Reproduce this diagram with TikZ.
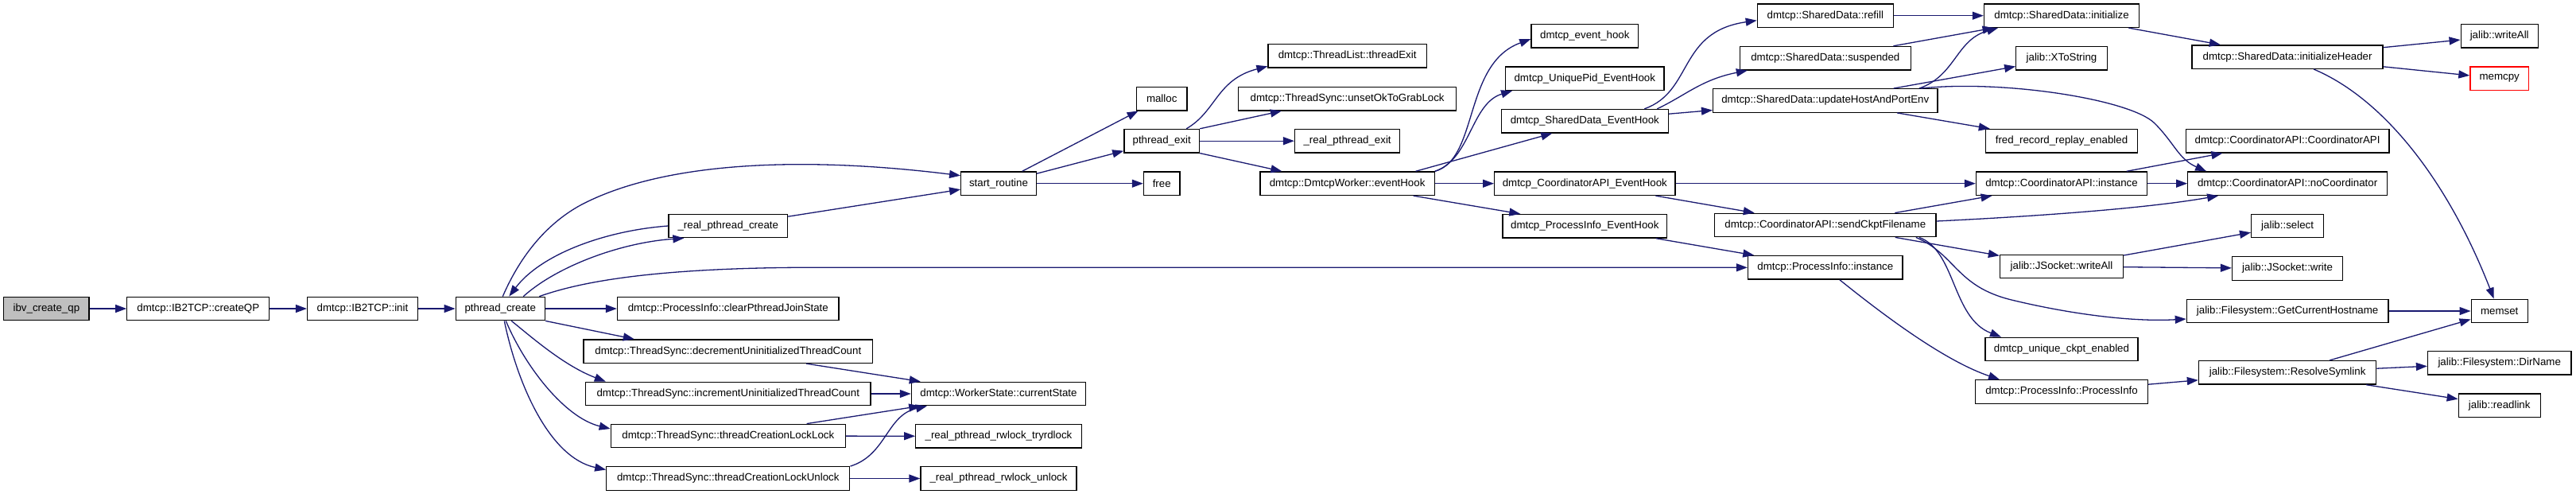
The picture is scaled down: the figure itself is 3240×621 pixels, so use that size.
\documentclass[tikz,border=0pt]{standalone}
\usepackage{fontspec}
\setmainfont{Liberation Sans}
\usetikzlibrary{arrows.meta}
\definecolor{midnight}{HTML}{191970}
\definecolor{rootgray}{HTML}{BFBFBF}
\tikzset{
  box/.style={draw=black, line width=1.3pt, fill=white, minimum height=29.5pt, inner sep=0pt, anchor=center, font=\fontsize{13.3}{15}\selectfont},
  rootbox/.style={box, fill=rootgray},
  redbox/.style={box, draw=red},
  edge/.style={draw=midnight, line width=1.3pt, -{Triangle[length=14pt,width=10pt]}}
}
\begin{document}
\begin{tikzpicture}[x=1pt,y=-1pt]
\useasboundingbox (0,0) rectangle (3240,621);
% rank 0-3
\node[rootbox, minimum width=107.3pt] (root) at (58.4,388) {ibv\_create\_qp};
\node[box, minimum width=179pt] (cqp) at (249.3,388) {dmtcp::IB2TCP::createQP};
\node[box, minimum width=138.8pt] (ibinit) at (456,388) {dmtcp::IB2TCP::init};
\node[box, minimum width=112.1pt] (pc) at (629.3,388) {pthread\_create};
% rank 4
\node[box, minimum width=149.6pt] (rpc) at (915.8,284) {\_real\_pthread\_create};
\node[box, minimum width=278.6pt] (clr) at (915.8,388) {dmtcp::ProcessInfo::clearPthreadJoinState};
\node[box, minimum width=363.9pt] (dec) at (915.8,441.7) {dmtcp::ThreadSync::decrementUninitializedThreadCount};
\node[box, minimum width=358.4pt] (inc) at (915.8,495) {dmtcp::ThreadSync::incrementUninitializedThreadCount};
\node[box, minimum width=295pt] (lck) at (915.8,548) {dmtcp::ThreadSync::threadCreationLockLock};
\node[box, minimum width=306pt] (ulk) at (915.8,601.5) {dmtcp::ThreadSync::threadCreationLockUnlock};
% rank 5
\node[box, minimum width=94.6pt] (sr) at (1256,230.7) {start\_routine};
\node[box, minimum width=219.2pt] (cst) at (1256,495) {dmtcp::WorkerState::currentState};
\node[box, minimum width=208.5pt] (try) at (1256,548.3) {\_real\_pthread\_rwlock\_tryrdlock};
\node[box, minimum width=196pt] (rwu) at (1256,601.5) {\_real\_pthread\_rwlock\_unlock};
% rank 6
\node[box, minimum width=63.4pt] (mal) at (1461.2,124.1) {malloc};
\node[box, minimum width=94.7pt] (pe) at (1461.2,177.2) {pthread\_exit};
\node[box, minimum width=45.5pt] (fre) at (1461.2,230.7) {free};
% rank 7
\node[box, minimum width=199.1pt] (te) at (1694.6,70.3) {dmtcp::ThreadList::threadExit};
\node[box, minimum width=274.1pt] (ok) at (1694.6,124.1) {dmtcp::ThreadSync::unsetOkToGrabLock};
\node[box, minimum width=132.1pt] (rpe) at (1694.6,177.2) {\_real\_pthread\_exit};
\node[box, minimum width=219.2pt] (eh) at (1694.6,230.7) {dmtcp::DmtcpWorker::eventHook};
% rank 8
\node[box, minimum width=134.8pt] (deh) at (1993.3,45.2) {dmtcp\_event\_hook};
\node[box, minimum width=199.1pt] (upid) at (1993.3,98.7) {dmtcp\_UniquePid\_EventHook};
\node[box, minimum width=209.8pt] (sde) at (1993.3,152.2) {dmtcp\_SharedData\_EventHook};
\node[box, minimum width=227.2pt] (cae) at (1993.3,230.7) {dmtcp\_CoordinatorAPI\_EventHook};
\node[box, minimum width=206.7pt] (pie) at (1993.3,284.3) {dmtcp\_ProcessInfo\_EventHook};
% rank 9
\node[box, minimum width=171pt] (refill) at (2295.8,19.7) {dmtcp::SharedData::refill};
\node[box, minimum width=214.7pt] (susp) at (2295.8,73.2) {dmtcp::SharedData::suspended};
\node[box, minimum width=282.5pt] (uh) at (2295.8,126.5) {dmtcp::SharedData::updateHostAndPortEnv};
\node[box, minimum width=278.5pt] (sc) at (2295.8,283) {dmtcp::CoordinatorAPI::sendCkptFilename};
\node[box, minimum width=194.6pt] (pii) at (2295.8,336.3) {dmtcp::ProcessInfo::instance};
% rank 10
\node[box, minimum width=195.1pt] (sdinit) at (2593,19.7) {dmtcp::SharedData::initialize};
\node[box, minimum width=114.5pt] (xts) at (2593,73.2) {jalib::XToString};
\node[box, minimum width=190.8pt] (fred) at (2593,177.2) {fred\_record\_replay\_enabled};
\node[box, minimum width=215.1pt] (cai) at (2593,230.7) {dmtcp::CoordinatorAPI::instance};
\node[box, minimum width=155pt] (jwa) at (2593,335) {jalib::JSocket::writeAll};
\node[box, minimum width=192.1pt] (uce) at (2593,439) {dmtcp\_unique\_ckpt\_enabled};
\node[box, minimum width=216.4pt] (pp) at (2593,492.5) {dmtcp::ProcessInfo::ProcessInfo};
% rank 11
\node[box, minimum width=240pt] (ih) at (2877.1,71.6) {dmtcp::SharedData::initializeHeader};
\node[box, minimum width=255.9pt] (cac) at (2877.1,177.2) {dmtcp::CoordinatorAPI::CoordinatorAPI};
\node[box, minimum width=250.6pt] (noc) at (2877.1,230.7) {dmtcp::CoordinatorAPI::noCoordinator};
\node[box, minimum width=91pt] (sel) at (2877.1,284) {jalib::select};
\node[box, minimum width=139.1pt] (jw) at (2877.1,337.5) {jalib::JSocket::write};
\node[box, minimum width=253.5pt] (gch) at (2877.1,391) {jalib::Filesystem::GetCurrentHostname};
\node[box, minimum width=223.3pt] (rs) at (2877.1,468.3) {jalib::Filesystem::ResolveSymlink};
% rank 12
\node[box, minimum width=97.1pt] (wa) at (3143.7,45.2) {jalib::writeAll};
\node[redbox, minimum width=73.5pt] (mcp) at (3143.7,98.7) {memcpy};
\node[box, minimum width=71pt] (mst) at (3143.7,391) {memset};
\node[box, minimum width=180.4pt] (dn) at (3143.7,456.2) {jalib::Filesystem::DirName};
\node[box, minimum width=102.9pt] (rl) at (3143.7,509.7) {jalib::readlink};

% straight edges
\foreach \a/\b in {root/cqp, cqp/ibinit, ibinit/pc, pc/clr, dec/cst, inc/cst, lck/cst, lck/try, ulk/rwu,
  rpc/sr, sr/mal, sr/pe, sr/fre, pe/rpe, eh/cae, sde/uh, refill/sdinit, susp/sdinit, uh/xts, uh/fred,
  sdinit/ih, ih/wa, ih/mcp, cae/cai, cae/sc, pie/pii, sc/cai, sc/jwa, cai/cac, cai/noc, jwa/sel, jwa/jw,
  pp/rs, gch/mst, rs/mst, rs/dn, rs/rl}
  \draw[edge] (\a) -- (\b);

% pthread_create fan
\draw[edge] ([xshift=3pt]pc.north) .. controls (656,318) and (690,280) .. (730,258)
  .. controls (830,205) and (1000,195) .. ([yshift=10pt]sr.west);
\draw[edge] ([xshift=29pt]pc.north) .. controls (700,335) and (780,305) .. ([xshift=20pt]rpc.south west);
\draw[edge] (rpc.west) .. controls (760,290) and (680,320) .. ([xshift=11pt]pc.north);
\draw[edge] ([xshift=49pt]pc.north) .. controls (720,358) and (800,338) .. (1000,336.3) -- (pii.west);
\draw[edge] (pc.south east) -- ([xshift=-118pt]dec.north);
\draw[edge] ([xshift=14pt]pc.south) .. controls (670,425) and (710,460) .. ([xshift=-154pt]inc.north);
\draw[edge] ([xshift=7pt]pc.south) .. controls (660,460) and (710,525) .. ([yshift=9pt]lck.west);
\draw[edge] ([xshift=5pt]pc.south) .. controls (650,480) and (690,575) .. ([yshift=11pt]ulk.west);
\draw[edge] (ulk.north east) .. controls (1115,572) and (1115,522) .. ([xshift=-90pt]cst.south);

% pthread_exit
\draw[edge] ([xshift=31pt]pe.north) .. controls (1530,140) and (1530,100) .. ([yshift=-13pt]te.west);
\draw[edge] (pe.north east) -- ([xshift=55pt]ok.south west);
\draw[edge] (pe.south east) -- ([xshift=28pt]eh.north west);

% eventHook
\draw[edge] (eh.north east) .. controls (1860,200) and (1840,80) .. ([yshift=-4pt]deh.west);
\draw[edge] (eh.north east) .. controls (1850,200) and (1850,130) .. ([xshift=9pt]upid.south west);
\draw[edge] ([xshift=86pt]eh.north) -- ([xshift=-41pt]sde.south);
\draw[edge] ([xshift=83pt]eh.south) -- ([xshift=-81pt]pie.north);

% SharedData
\draw[edge] ([xshift=75pt]sde.north) .. controls (2130,115) and (2110,40) .. ([yshift=-6pt]refill.west);
\draw[edge] ([xshift=91pt]sde.north) .. controls (2120,120) and (2140,100) .. ([xshift=10pt]susp.south west);
\draw[edge] ([xshift=118pt]uh.north) .. controls (2460,95) and (2460,50) .. ([xshift=-80pt]sdinit.south);
\draw[edge] ([xshift=120pt]uh.north) .. controls (2520,100) and (2680,125) .. (2710,155)
  .. controls (2735,180) and (2740,200) .. ([xshift=-102pt]noc.north);
\draw[edge] ([xshift=33pt]ih.south) .. controls (3000,125) and (3080,230) .. ([xshift=-7pt]mst.north);

% sendCkptFilename
\draw[edge] ([yshift=5pt]sc.east) .. controls (2560,272) and (2700,262) .. ([xshift=-87pt]noc.south);
\draw[edge] ([xshift=114pt]sc.south) .. controls (2460,320) and (2460,360) .. (2530,377)
  .. controls (2600,394) and (2680,405) .. ([yshift=-10pt]gch.west);
\draw[edge] ([xshift=118pt]sc.south) .. controls (2460,315) and (2455,400) .. ([xshift=-76pt]uce.north);
\draw[edge] ([xshift=18pt]pii.south) .. controls (2380,405) and (2450,455) .. ([xshift=-78pt]pp.north);
\end{tikzpicture}
\end{document}
